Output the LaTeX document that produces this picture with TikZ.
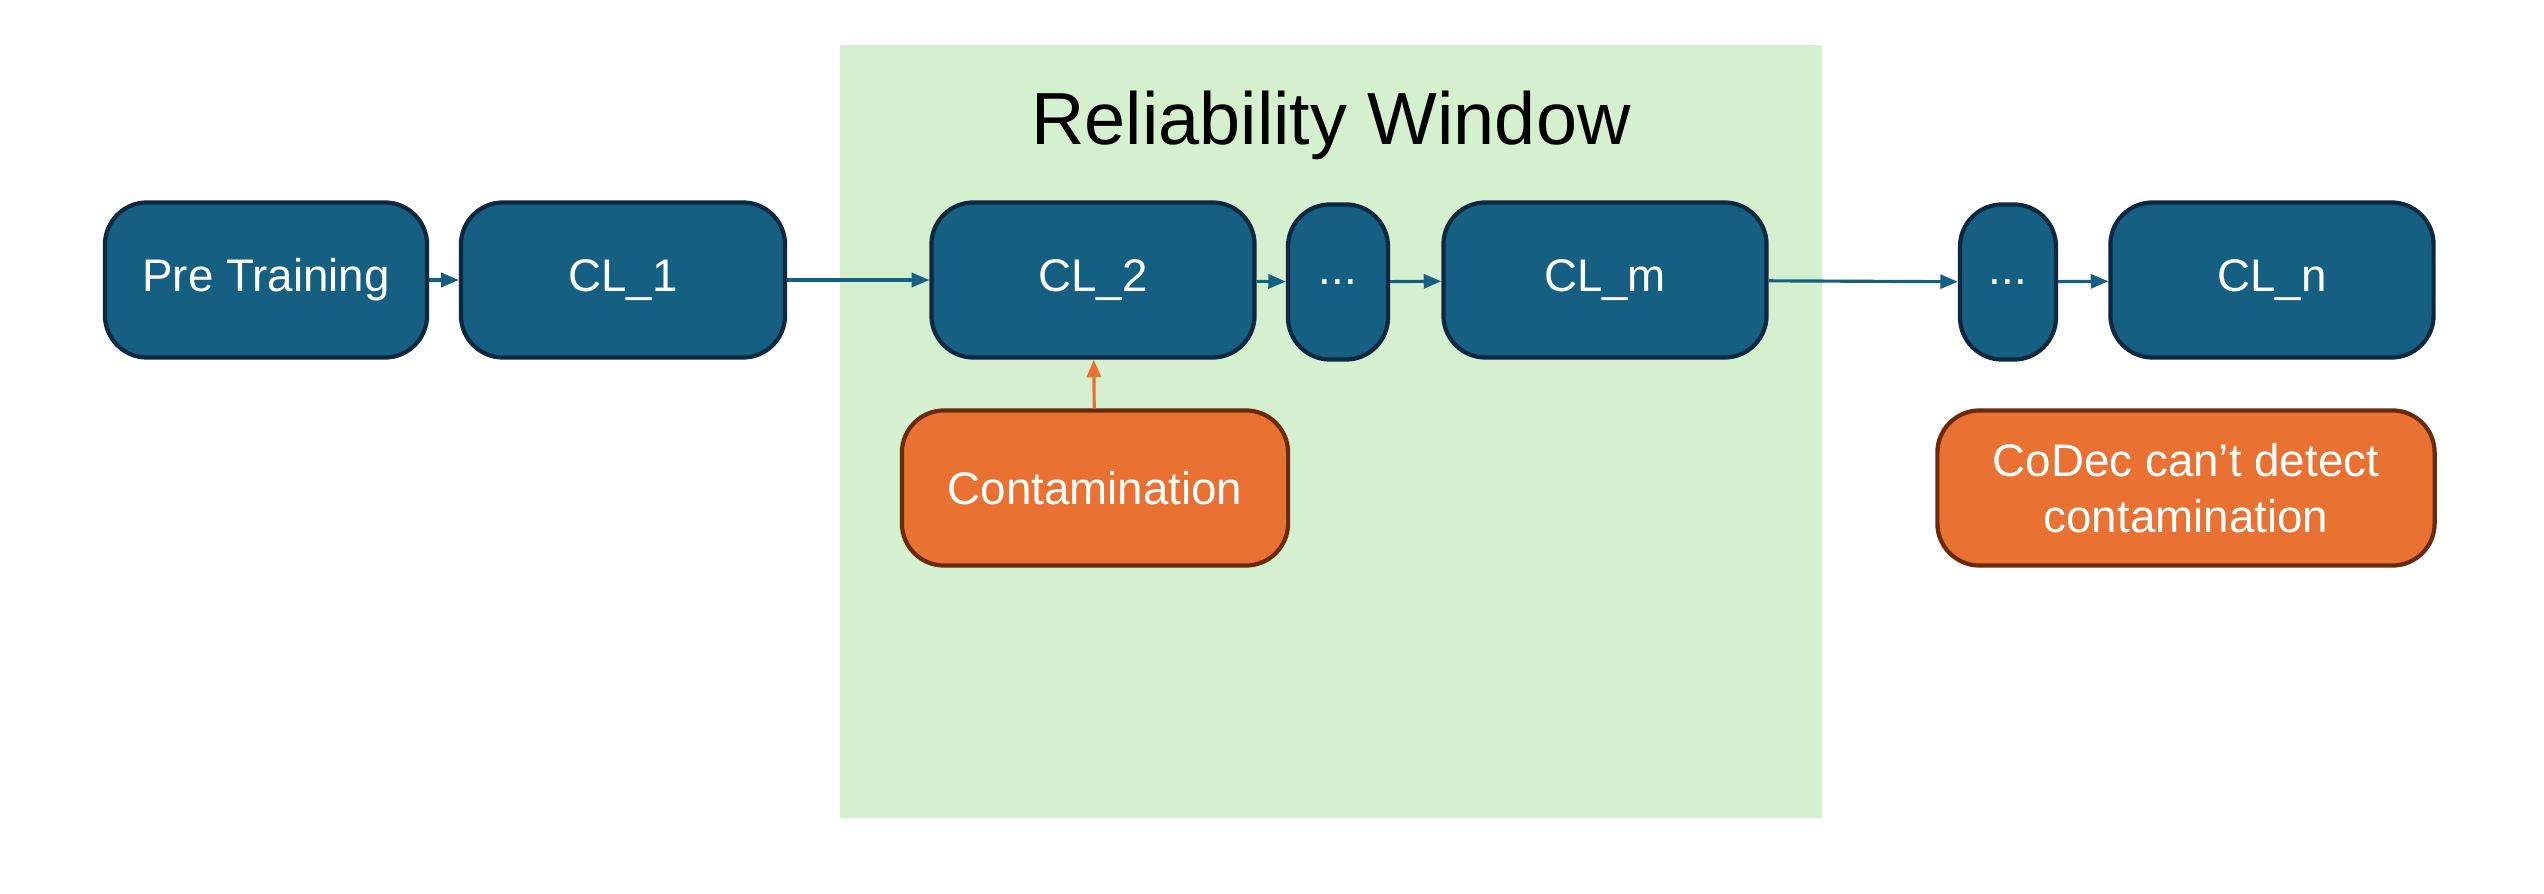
\documentclass[tikz,border=0pt]{standalone}
\usepackage{fontspec}
\setmainfont{Liberation Sans}
\usetikzlibrary{arrows.meta}
\definecolor{boxblue}{HTML}{156082}
\definecolor{boxedge}{HTML}{0E2841}
\definecolor{orng}{HTML}{E97132}
\definecolor{orngedge}{HTML}{6B2A0C}
\definecolor{wingreen}{HTML}{D5F0CF}
\begin{document}
\begin{tikzpicture}[x=0.01cm,y=-0.01cm,
  blk/.style={draw=boxedge,line width=1.2pt,fill=boxblue,rounded corners=12pt,text=white,font=\fontsize{13}{16}\selectfont,inner sep=0pt,align=center},
  oblk/.style={draw=orngedge,line width=1.2pt,fill=orng,rounded corners=12pt,text=white,font=\fontsize{13}{16}\selectfont,inner sep=0pt,align=center},
  con/.style={draw=boxblue,line width=0.9pt,-{Triangle[length=5pt,width=4pt]}},
  ocon/.style={draw=orng,line width=0.9pt,-{Triangle[length=5pt,width=4pt]}}]
\useasboundingbox (0,0) rectangle (2544,894);
\fill[wingreen] (840,45) rectangle (1822,818);
\node[font=\fontsize{21}{25}\selectfont] (title) at (1331,125) {Reliability Window};
\node[blk,minimum width=322\pgflinewidth,minimum width=3.22cm,minimum height=1.55cm] (pre) at (266,280) {Pre Training};
\node[blk,minimum width=3.24cm,minimum height=1.55cm] (cl1) at (623,280) {CL\_1};
\node[blk,minimum width=3.23cm,minimum height=1.55cm] (cl2) at (1093,280) {CL\_2};
\node[blk,minimum width=1.0cm,minimum height=1.55cm] (d1) at (1338,282) {...};
\node[blk,minimum width=3.23cm,minimum height=1.55cm] (clm) at (1605,280) {CL\_m};
\node[blk,minimum width=0.96cm,minimum height=1.55cm] (d2) at (2008,282) {...};
\node[blk,minimum width=3.23cm,minimum height=1.55cm] (cln) at (2272,280) {CL\_n};
\node[oblk,minimum width=3.86cm,minimum height=1.55cm] (cont) at (1095,488) {Contamination};
\node[oblk,minimum width=4.97cm,minimum height=1.55cm] (codec) at (2186,488) {CoDec can’t detect\\contamination};
\draw[con] (pre) -- (cl1);
\draw[con] (cl1) -- (cl2);
\draw[con] (cl2) -- (d1);
\draw[con] (d1) -- (clm);
\draw[con] (clm) -- (d2);
\draw[con] (d2) -- (cln);
\draw[ocon] (cont) -- (cl2);
\end{tikzpicture}
\end{document}
